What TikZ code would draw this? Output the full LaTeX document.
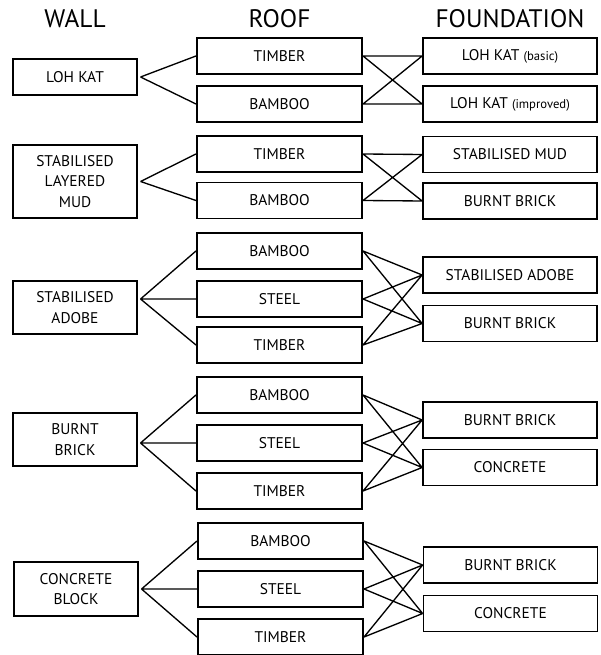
\documentclass[tikz,border=0pt]{standalone}
\usepackage{fontspec}
\setmainfont{PT Sans}
\begin{document}
\begin{tikzpicture}[x=0.75pt, y=-0.75pt,
  box/.style={draw, line width=1.3pt, inner sep=0pt, align=center, font=\fontsize{11.6}{15.5}\selectfont},
  wallbox/.style={box, minimum width=93pt},
  roofbox/.style={box, minimum width=124pt, minimum height=27pt},
  fndbox/.style={box, minimum width=130.5pt, minimum height=27pt},
  head/.style={font=\fontsize{19}{21}\selectfont},
  link/.style={line width=1pt}]
\useasboundingbox (0,0) rectangle (600,655);
% Headings
\node[head] (hwall) at (75,19) {WALL};
\node[head] (hroof) at (279.5,19) {ROOF};
\node[head] (hfnd) at (510,19) {FOUNDATION};

% Nodes
\node[wallbox, minimum height=27pt] (w1) at (75,77) {LOH KAT};
\node[roofbox] (r1t) at (279.5,56) {TIMBER};
\node[roofbox] (r1b) at (279.5,104) {BAMBOO};
\node[fndbox] (f1a) at (510,56) {LOH KAT {\fontsize{9.5}{11}\selectfont(basic)}};
\node[fndbox] (f1b) at (510,104) {LOH KAT {\fontsize{9.5}{11}\selectfont(improved)}};

\node[wallbox, minimum height=54.75pt] (w2) at (75,181.5) {STABILISED\\LAYERED\\MUD};
\node[roofbox] (r2t) at (279.5,154) {TIMBER};
\node[roofbox] (r2b) at (279.5,200.5) {BAMBOO};
\node[fndbox] (f2a) at (510,154.5) {STABILISED MUD};
\node[fndbox] (f2b) at (510,201) {BURNT BRICK};

\node[wallbox, minimum height=40pt] (w3) at (75,307.5) {STABILISED\\ADOBE};
\node[roofbox] (r3a) at (279.5,251) {BAMBOO};
\node[roofbox] (r3s) at (279.5,299) {STEEL};
\node[roofbox] (r3t) at (279.5,345) {TIMBER};
\node[fndbox] (f3a) at (510,275) {STABILISED ADOBE};
\node[fndbox] (f3b) at (510,323.5) {BURNT BRICK};

\node[wallbox, minimum height=40pt] (w4) at (75,439.5) {BURNT\\BRICK};
\node[roofbox] (r4a) at (279.5,395) {BAMBOO};
\node[roofbox] (r4s) at (279.5,443) {STEEL};
\node[roofbox] (r4t) at (279.5,491) {TIMBER};
\node[fndbox] (f4a) at (510,420) {BURNT BRICK};
\node[fndbox] (f4b) at (510,467.5) {CONCRETE};

\node[wallbox, minimum height=40.5pt] (w5) at (76,589) {CONCRETE\\BLOCK};
\node[roofbox] (r5a) at (280.5,541) {BAMBOO};
\node[roofbox] (r5s) at (280.5,589) {STEEL};
\node[roofbox] (r5t) at (280.5,637) {TIMBER};
\node[fndbox] (f5a) at (510.5,565) {BURNT BRICK};
\node[fndbox] (f5b) at (510.5,613.5) {CONCRETE};

% Joints
\coordinate[xshift=2pt] (j1) at (w1.east);
\coordinate[xshift=2pt] (j2) at (w2.east);
\coordinate[xshift=2pt] (j3) at (w3.east |- r3s.west);
\coordinate[xshift=2pt] (j4) at (w4.east |- r4s.west);
\coordinate[xshift=2pt] (j5) at (w5.east |- r5s.west);

% Lines
\draw[link] (j1) -- (r1t.west) (j1) -- (r1b.west);
\draw[link] (r1t.east) -- (f1a.west) (r1t.east) -- (f1b.west)
            (r1b.east) -- (f1a.west) (r1b.east) -- (f1b.west);

\draw[link] (j2) -- (r2t.west) (j2) -- (r2b.west);
\draw[link] (r2t.east) -- (f2a.west) (r2t.east) -- (f2b.west)
            (r2b.east) -- (f2a.west) (r2b.east) -- (f2b.west);

\draw[link] (j3) -- (r3a.west) (j3) -- (r3s.west) (j3) -- (r3t.west);
\draw[link] (r3a.east) -- (f3a.west) (r3a.east) -- (f3b.west)
            (r3s.east) -- (f3a.west) (r3s.east) -- (f3b.west)
            (r3t.east) -- (f3a.west) (r3t.east) -- (f3b.west);

\draw[link] (j4) -- (r4a.west) (j4) -- (r4s.west) (j4) -- (r4t.west);
\draw[link] (r4a.east) -- (f4a.west) (r4a.east) -- (f4b.west)
            (r4s.east) -- (f4a.west) (r4s.east) -- (f4b.west)
            (r4t.east) -- (f4a.west) (r4t.east) -- (f4b.west);

\draw[link] (j5) -- (r5a.west) (j5) -- (r5s.west) (j5) -- (r5t.west);
\draw[link] (r5a.east) -- (f5a.west) (r5a.east) -- (f5b.west)
            (r5s.east) -- (f5a.west) (r5s.east) -- (f5b.west)
            (r5t.east) -- (f5a.west) (r5t.east) -- (f5b.west);
\end{tikzpicture}
\end{document}
